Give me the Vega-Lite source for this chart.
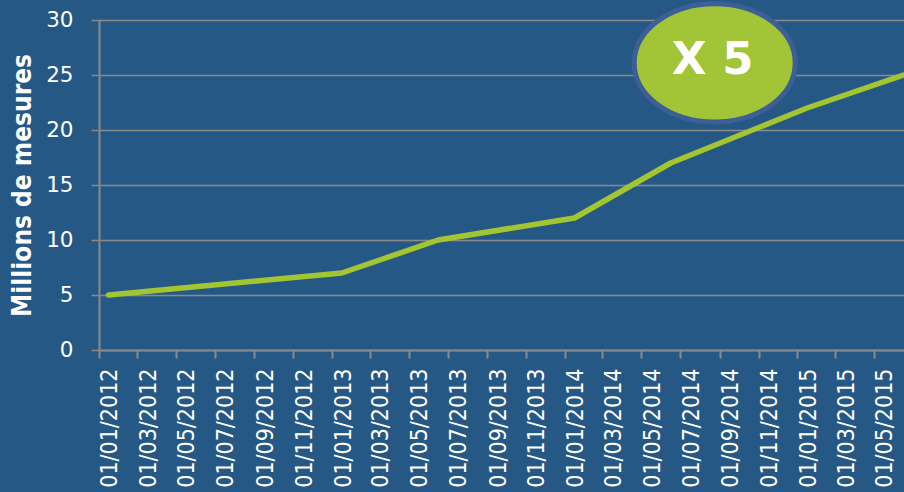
{
  "$schema": "https://vega.github.io/schema/vega-lite/v6.json",
  "autosize": {"type": "none"},
  "padding": {"left": 99, "top": 20, "right": 0, "bottom": 142},
  "width": 805,
  "height": 330,
  "background": "#265886",
  "config": {
    "view": {"stroke": null},
    "font": "DejaVu Sans Condensed"
  },
  "datasets": {
    "series": [
      {"date": "2012-01-01", "value": 5},
      {"date": "2013-01-01", "value": 7},
      {"date": "2013-06-01", "value": 10},
      {"date": "2014-01-01", "value": 12},
      {"date": "2014-06-01", "value": 17},
      {"date": "2015-01-01", "value": 22},
      {"date": "2015-06-01", "value": 25}
    ],
    "note": [
      {"date": "2014-08-09", "value": 26.1, "label": "X 5"}
    ]
  },
  "encoding": {
    "x": {
      "field": "date",
      "type": "temporal",
      "scale": {
        "type": "utc",
        "domain": [
          {"year": 2011, "month": 12, "date": 17, "utc": true},
          {"year": 2015, "month": 6, "date": 2, "utc": true}
        ]
      },
      "axis": {
        "title": null,
        "labelExpr": "utcFormat(datum.value, '%d/%m/%Y')",
        "tickCount": {"interval": "month", "step": 2},
        "grid": false,
        "labelAngle": -90,
        "labelAlign": "right",
        "labelBaseline": "middle",
        "labelFontSize": 23,
        "labelColor": "#ffffff",
        "labelPadding": 10,
        "labelOverlap": false,
        "labelFlush": false,
        "tickSize": 8,
        "tickWidth": 2,
        "tickColor": "#8a8a8a",
        "tickOffset": -9.7,
        "labelOffset": 11,
        "domainColor": "#8a8a8a",
        "domainWidth": 2
      }
    },
    "y": {
      "field": "value",
      "type": "quantitative",
      "scale": {"domain": [0, 30], "nice": false},
      "axis": {
        "title": "Millions de mesures",
        "titleFontSize": 26,
        "titleFontWeight": "bold",
        "titleColor": "#ffffff",
        "titlePadding": 10,
        "values": [0, 5, 10, 15, 20, 25, 30],
        "labelFont": "DejaVu Sans",
        "labelFontSize": 21.5,
        "labelColor": "#ffffff",
        "labelPadding": 18,
        "grid": true,
        "gridColor": "#8a8a8a",
        "gridWidth": 1.5,
        "tickSize": 8,
        "tickWidth": 1.5,
        "tickColor": "#8a8a8a",
        "domainColor": "#8a8a8a",
        "domainWidth": 2
      }
    }
  },
  "layer": [
    {
      "data": {"name": "series"},
      "mark": {"type": "line", "color": "#a2c531", "strokeWidth": 5.5, "strokeCap": "round", "strokeJoin": "round"}
    },
    {
      "data": {"name": "note"},
      "mark": {
        "type": "point",
        "shape": "M -1 0 A 1 0.735 0 1 1 1 0 A 1 0.735 0 1 1 -1 0 Z",
        "size": 25921,
        "filled": true,
        "fill": "#a2c437",
        "fillOpacity": 1,
        "stroke": "#3c5f97",
        "strokeWidth": 5,
        "opacity": 1
      }
    },
    {
      "data": {"name": "note"},
      "mark": {"type": "text", "font": "DejaVu Sans", "fontWeight": "bold", "fontSize": 45, "color": "#ffffff", "align": "center", "baseline": "middle", "dx": -2, "dy": -3},
      "encoding": {"text": {"field": "label"}}
    }
  ]
}
